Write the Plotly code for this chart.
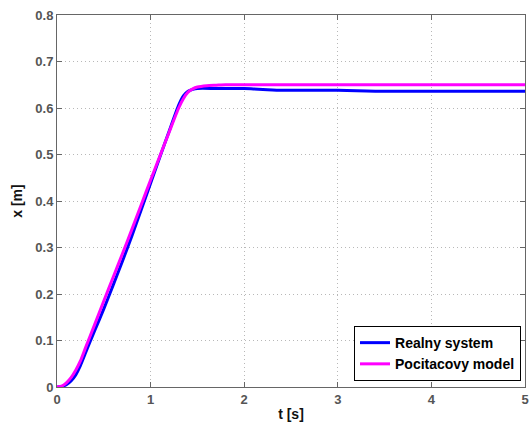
import plotly.graph_objects as go

t_real = [0, 0.05, 0.1, 0.15, 0.2, 0.25, 0.3, 0.35, 0.4, 0.5, 0.6, 0.7, 0.8, 0.9,
          1.0, 1.1, 1.2, 1.3, 1.35, 1.4, 1.45, 1.5, 1.7, 2.0, 2.1, 2.2, 2.4, 2.6, 3.0, 3.2, 3.4, 4.0, 5.0]
x_real = [0, 0.001, 0.005, 0.013, 0.026, 0.046, 0.071, 0.096, 0.120, 0.168, 0.219, 0.271, 0.325, 0.381,
          0.438, 0.495, 0.551, 0.606, 0.626, 0.636, 0.640, 0.642, 0.642, 0.642, 0.641, 0.640,
          0.638, 0.638, 0.638, 0.637, 0.636, 0.636, 0.636]

t_model = [0, 0.05, 0.1, 0.15, 0.2, 0.25, 0.3, 0.4, 0.5, 0.6, 0.7, 0.8, 0.9, 1.0, 1.1, 1.2, 1.3,
           1.35, 1.4, 1.45, 1.5, 1.6, 1.7, 1.8, 2.0, 3.0, 4.0, 5.0]
x_model = [0, 0.002, 0.009, 0.020, 0.036, 0.056, 0.082, 0.133, 0.185, 0.236, 0.287, 0.339, 0.392, 0.445,
           0.497, 0.549, 0.600, 0.620, 0.634, 0.641, 0.645, 0.648, 0.649, 0.650, 0.650, 0.650, 0.650, 0.650]

x_ticks = [0, 1, 2, 3, 4, 5]
y_ticks = [0, 0.1, 0.2, 0.3, 0.4, 0.5, 0.6, 0.7, 0.8]
y_tick_text = ["0", "0.1", "0.2", "0.3", "0.4", "0.5", "0.6", "0.7", "0.8"]

FONT = "Liberation Sans, Arial, Helvetica, sans-serif"

fig = go.Figure()
fig.add_trace(go.Scatter(x=t_real, y=x_real, mode="lines", name="Realny system",
                         line=dict(color="#0000ff", width=3, shape="spline", smoothing=0.6)))
fig.add_trace(go.Scatter(x=t_model, y=x_model, mode="lines", name="Pocitacovy model",
                         line=dict(color="#ff00ff", width=3, shape="spline", smoothing=0.6)))

axis_common = dict(
    showline=True, linecolor="#666666", linewidth=1, mirror="ticks",
    ticks="inside", ticklen=5, tickcolor="#666666", tickwidth=1,
    showgrid=True, gridcolor="#b8b8b8", gridwidth=1, griddash="1px,3px",
    zeroline=False, ticklabeloverflow="allow",
    tickfont=dict(family=FONT, size=13, color="#555555", weight="bold"),
)

fig.update_layout(
    width=532, height=425,
    margin=dict(l=57, r=3, t=15, b=38),
    paper_bgcolor="white", plot_bgcolor="white",
    font=dict(family=FONT),
    xaxis=dict(range=[0, 5], tickvals=x_ticks, **axis_common,
               title=dict(text="t [s]", font=dict(family=FONT, size=14, color="#111111", weight="bold"), standoff=3)),
    yaxis=dict(range=[0, 0.8], tickvals=y_ticks, ticktext=y_tick_text, **axis_common,
               title=dict(text="x [m]", font=dict(family=FONT, size=14, color="#111111", weight="bold"), standoff=9)),
    legend=dict(x=0.9915, y=0.016, xanchor="right", yanchor="bottom",
                bgcolor="white", bordercolor="#000000", borderwidth=1,
                font=dict(family=FONT, size=14, color="#000000", weight="bold"),
                tracegroupgap=0, itemwidth=30),
    showlegend=True,
)

fig.write_html("out.html")
